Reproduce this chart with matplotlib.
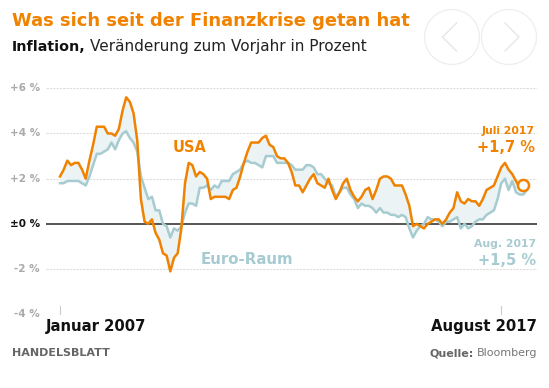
import numpy as np
import matplotlib
matplotlib.use("Agg")
import matplotlib.pyplot as plt
from matplotlib.patches import Ellipse
from matplotlib.lines import Line2D
import matplotlib.transforms as mtransforms

# Monthly YoY inflation, Jan 2007 .. Aug 2017
us_cpi = [
    2.1, 2.4, 2.8, 2.6, 2.7, 2.7, 2.4, 2.0, 2.8, 3.5, 4.3, 4.3,   # 2007
    4.3, 4.0, 4.0, 3.9, 4.2, 5.0, 5.6, 5.4, 4.9, 3.7, 1.1, 0.1,   # 2008
    0.0, 0.2, -0.4, -0.7, -1.3, -1.4, -2.1, -1.5, -1.3, -0.2, 1.8, 2.7,  # 2009
    2.6, 2.1, 2.3, 2.2, 2.0, 1.1, 1.2, 1.2, 1.2, 1.2, 1.1, 1.5,   # 2010
    1.6, 2.1, 2.7, 3.2, 3.6, 3.6, 3.6, 3.8, 3.9, 3.5, 3.4, 3.0,   # 2011
    2.9, 2.9, 2.7, 2.3, 1.7, 1.7, 1.4, 1.7, 2.0, 2.2, 1.8, 1.7,   # 2012
    1.6, 2.0, 1.5, 1.1, 1.4, 1.8, 2.0, 1.5, 1.2, 1.0, 1.2, 1.5,   # 2013
    1.6, 1.1, 1.5, 2.0, 2.1, 2.1, 2.0, 1.7, 1.7, 1.7, 1.3, 0.8,   # 2014
    -0.1, 0.0, -0.1, -0.2, 0.0, 0.1, 0.2, 0.2, 0.0, 0.2, 0.5, 0.7,  # 2015
    1.4, 1.0, 0.9, 1.1, 1.0, 1.0, 0.8, 1.1, 1.5, 1.6, 1.7, 2.1,   # 2016
    2.5, 2.7, 2.4, 2.2, 1.9, 1.6, 1.7,                            # 2017 (to July)
]
euro_hicp = [
    1.8, 1.8, 1.9, 1.9, 1.9, 1.9, 1.8, 1.7, 2.1, 2.6, 3.1, 3.1,   # 2007
    3.2, 3.3, 3.6, 3.3, 3.7, 4.0, 4.1, 3.8, 3.6, 3.2, 2.1, 1.6,   # 2008
    1.1, 1.2, 0.6, 0.6, 0.0, -0.1, -0.6, -0.2, -0.3, -0.1, 0.5, 0.9,  # 2009
    0.9, 0.8, 1.6, 1.6, 1.7, 1.5, 1.7, 1.6, 1.9, 1.9, 1.9, 2.2,   # 2010
    2.3, 2.4, 2.7, 2.8, 2.7, 2.7, 2.6, 2.5, 3.0, 3.0, 3.0, 2.7,   # 2011
    2.7, 2.7, 2.7, 2.6, 2.4, 2.4, 2.4, 2.6, 2.6, 2.5, 2.2, 2.2,   # 2012
    2.0, 1.8, 1.7, 1.2, 1.4, 1.6, 1.6, 1.3, 1.1, 0.7, 0.9, 0.8,   # 2013
    0.8, 0.7, 0.5, 0.7, 0.5, 0.5, 0.4, 0.4, 0.3, 0.4, 0.3, -0.2,  # 2014
    -0.6, -0.3, -0.1, 0.0, 0.3, 0.2, 0.2, 0.1, -0.1, 0.1, 0.1, 0.2,  # 2015
    0.3, -0.2, 0.0, -0.2, -0.1, 0.1, 0.2, 0.2, 0.4, 0.5, 0.6, 1.1,  # 2016
    1.8, 2.0, 1.5, 1.9, 1.4, 1.3, 1.3, 1.5,                       # 2017 (to Aug)
]
y_ticks = [6, 4, 2, 0, -2, -4]
y_labels = ["+6 %", "+4 %", "+2 %", "±0 %", "-2 %", "-4 %"]
x_start_label = "Januar 2007"
x_end_label = "August 2017"

ORANGE = "#f08200"
EURO = "#a6cbd0"
FILL = "#ebf3f4"
GREY = "#aaaaaa"

W, H = 549, 388
fig = plt.figure(figsize=(W / 100, H / 100), dpi=100)
fig.patch.set_facecolor("white")

def px(x, y):
    return x / W, 1 - y / H

ax_left, ax_right, ax_top, ax_bot = 46, 537, 88.3, 314.3
ax = fig.add_axes([ax_left / W, 1 - ax_bot / H, (ax_right - ax_left) / W, (ax_bot - ax_top) / H])
ax.set_facecolor("none")
n_eu = len(euro_hicp)
n_us = len(us_cpi)
ppm = (527 - 60) / (n_eu - 1)
ax.set_xlim(-(60 - ax_left) / ppm, (n_eu - 1) + (ax_right - 527) / ppm)
ax.set_ylim(-4, 6)
for s in ax.spines.values():
    s.set_visible(False)
ax.set_xticks([])
ax.set_yticks([])

for t in y_ticks:
    if t == 0:
        ax.axhline(0, color="#555555", lw=1.4, zorder=3)
    else:
        ax.axhline(t, color="#dddddd", lw=0.8, ls=(0, (2, 1)), zorder=1)

# small ticks at Jan 2007 and Jan 2017 on baseline
for m in [0, 120]:
    ax.plot([m, m], [-4, -3.65], color="#cccccc", lw=0.8, clip_on=False)

xu = np.arange(n_us)
xe = np.arange(n_eu)
ax.fill_between(xu, us_cpi, euro_hicp[:n_us], color=FILL, lw=0, zorder=2)
ax.plot(xe, euro_hicp, color=EURO, lw=1.8, zorder=4, solid_joinstyle="round")
ax.plot(xu, us_cpi, color=ORANGE, lw=1.8, zorder=5, solid_joinstyle="round")
ax.plot([xu[-1]], [us_cpi[-1]], marker="o", ms=8, mfc="white", mec=ORANGE, mew=1.8, zorder=6)

FAM = ["DejaVu Sans"]
# y tick labels
ytr = mtransforms.blended_transform_factory(fig.transFigure, ax.transData)
for t, lab in zip(y_ticks, y_labels):
    ax.text(40 / W, t, lab, transform=ytr, ha="right", va="center", fontsize=7.5,
            color="#111111" if t == 0 else GREY, fontweight="bold", family=FAM)

# series labels
fig.text(*px(190, 147), "USA", color=ORANGE, fontsize=10.5, fontweight="bold", ha="center", va="center", family=FAM)
fig.text(*px(247, 260), "Euro-Raum", color=EURO, fontsize=10.8, fontweight="bold", ha="center", va="center", family=FAM)
fig.text(*px(535, 131), "Juli 2017", color=ORANGE, fontsize=7.8, fontweight="bold", ha="right", va="center", family=FAM)
fig.text(*px(535, 147.5), "+1,7 %", color=ORANGE, fontsize=10.5, fontweight="bold", ha="right", va="center", family=FAM)
fig.text(*px(536, 244), "Aug. 2017", color=EURO, fontsize=7.8, fontweight="bold", ha="right", va="center", family=FAM)
fig.text(*px(536, 260.5), "+1,5 %", color=EURO, fontsize=10.5, fontweight="bold", ha="right", va="center", family=FAM)

# x labels
fig.text(*px(46, 326), x_start_label, fontsize=10.7, fontweight="bold", color="#111111", ha="left", va="center", family=FAM)
fig.text(*px(537, 326), x_end_label, fontsize=10.7, fontweight="bold", color="#111111", ha="right", va="center", family=FAM)

# footer
fig.text(*px(12, 353), "HANDELSBLATT", fontsize=8, fontweight="bold", color="#666666", ha="left", va="center", family=FAM)
t1 = fig.text(*px(537, 353), "Bloomberg", fontsize=8, color="#777777", ha="right", va="center", family=FAM)
fig.canvas.draw()
r = fig.canvas.get_renderer()
bb = t1.get_window_extent(r)
fig.text(bb.x0 / W - 0.005, 1 - 353 / H, "Quelle:", fontsize=8, fontweight="bold", color="#666666",
         ha="right", va="center", family=FAM)

# title and subtitle
fig.text(*px(12, 21), "Was sich seit der Finanzkrise getan hat", fontsize=12.9, fontweight="bold",
         color=ORANGE, ha="left", va="center", family=FAM)
s1 = fig.text(*px(12, 47), "Inflation,", fontsize=10.3, fontweight="bold", color="#111111",
              ha="left", va="center", family=FAM)
fig.canvas.draw()
bb = s1.get_window_extent(r)
fig.text(bb.x1 / W + 0.008, 1 - 47 / H, "Veränderung zum Vorjahr in Prozent", fontsize=11.0,
         color="#222222", ha="left", va="center", family=FAM)

# navigation circles (faint)
for cx in [452, 509]:
    e = Ellipse(px(cx, 37), 2 * 27.5 / W, 2 * 27.5 / H, transform=fig.transFigure,
                fill=False, ec="#eeeeee", lw=0.9)
    fig.patches.append(e)
fig.lines.append(Line2D([px(456.5, 0)[0], px(442.5, 0)[0], px(456.5, 0)[0]],
                        [px(0, 23)[1], px(0, 37)[1], px(0, 51)[1]], transform=fig.transFigure,
                        color="#e3e7eb", lw=1))
fig.lines.append(Line2D([px(505, 0)[0], px(519, 0)[0], px(505, 0)[0]],
                        [px(0, 23)[1], px(0, 37)[1], px(0, 51)[1]], transform=fig.transFigure,
                        color="#e3e7eb", lw=1))

fig.savefig("out.png", dpi=100, facecolor="white")
